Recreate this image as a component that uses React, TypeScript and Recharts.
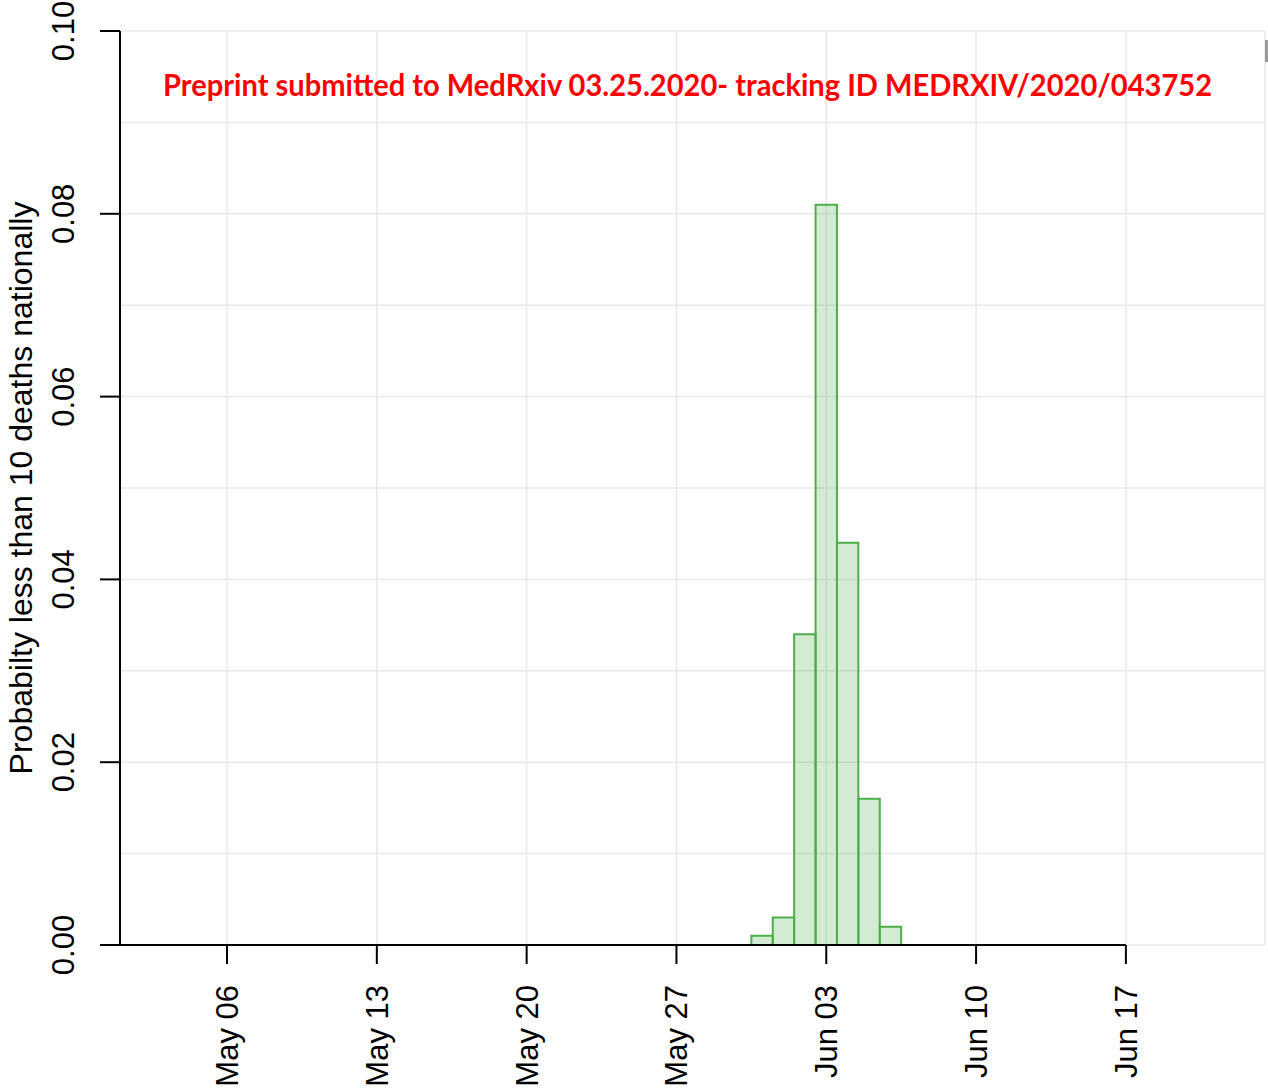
import React from "react";
import {
  ComposedChart,
  Bar,
  XAxis,
  YAxis,
  CartesianGrid,
  ReferenceLine,
  Customized,
} from "recharts";

// Days counted from May 01 (day 0)
const barDays = [30, 31, 32, 33, 34, 35, 36]; // May 31 .. Jun 06
const barValues = [0.001, 0.003, 0.034, 0.081, 0.044, 0.016, 0.002];

const xTickDays = [5, 12, 19, 26, 33, 40, 47];
const xTickLabels = ["May 06", "May 13", "May 20", "May 27", "Jun 03", "Jun 10", "Jun 17"];

const yTicks = [0, 0.01, 0.02, 0.03, 0.04, 0.05, 0.06, 0.07, 0.08, 0.09, 0.1];
const yLabeledTicks = [0, 0.02, 0.04, 0.06, 0.08, 0.1];
const yTickLabels = ["0.00", "0.02", "0.04", "0.06", "0.08", "0.10"];

const titleText = "Preprint submitted to MedRxiv 03.25.2020- tracking ID MEDRXIV/2020/043752";
const yLabelText = "Probabilty less than 10 deaths nationally";

const data = barDays.map((d, i) => ({ day: d, p: barValues[i] }));

const FONT = "'Liberation Sans', Arial, sans-serif";

const XTick = (props: any) => {
  const { x, y, payload } = props;
  const idx = xTickDays.indexOf(payload.value);
  const label = idx >= 0 ? xTickLabels[idx] : "";
  return (
    <g>
      <line x1={x} y1={y} x2={x} y2={y + 19} stroke="#000" strokeWidth={2} />
      <text
        transform={`translate(${x + 11}, ${y + 40}) rotate(-90)`}
        textAnchor="end"
        fontFamily={FONT}
        fontSize={31}
        fill="#000"
      >
        {label}
      </text>
    </g>
  );
};

const YTick = (props: any) => {
  const { y, payload } = props;
  const idx = yLabeledTicks.findIndex((v) => Math.abs(v - payload.value) < 1e-9);
  if (idx < 0) return <g />;
  return (
    <g>
      <line x1={100} y1={y} x2={120} y2={y} stroke="#000" strokeWidth={2} />
      <text
        transform={`translate(74, ${y}) rotate(-90)`}
        textAnchor="middle"
        fontFamily={FONT}
        fontSize={31}
        fill="#000"
      >
        {yTickLabels[idx]}
      </text>
    </g>
  );
};

const Decorations = () => (
  <g>
    <text
      x={163}
      y={96}
      fontFamily="Lato, 'Open Sans', sans-serif"
      fontWeight="bold"
      fontSize={30}
      fill="#ff0000"
      textLength={1049}
      lengthAdjust="spacingAndGlyphs"
    >
      {titleText}
    </text>
    <text
      transform="translate(32, 488) rotate(-90)"
      textAnchor="middle"
      fontFamily={FONT}
      fontSize={32}
      fill="#000"
    >
      {yLabelText}
    </text>
    <rect x={1265} y={40} width={3} height={22} fill="#9a9a9a" />
  </g>
);

export default function App() {
  return (
    <div style={{ position: "absolute", left: 0, top: 0, background: "#fff" }}>
      <ComposedChart
        width={1268}
        height={1089}
        data={data}
        margin={{ top: 31, right: 3, left: 0, bottom: 0 }}
        barCategoryGap={0}
        barGap={0}
      >
        <CartesianGrid stroke="#e9e9e9" strokeWidth={1.5} />
        <XAxis
          type="number"
          dataKey="day"
          domain={[0, 53.5]}
          ticks={xTickDays}
          interval={0}
          allowDataOverflow
          axisLine={false}
          tickLine={false}
          tickSize={0}
          tickMargin={0}
          height={144}
          tick={<XTick />}
        />
        <YAxis
          type="number"
          domain={[0, 0.1]}
          ticks={yTicks}
          interval={0}
          width={120}
          axisLine={{ stroke: "#000", strokeWidth: 2 }}
          tickLine={false}
          tick={<YTick />}
        />
        <Bar
          dataKey="p"
          barSize={21.4}
          fill="rgba(77,175,74,0.25)"
          stroke="#4daf4a"
          strokeWidth={2}
          isAnimationActive={false}
        />
        <ReferenceLine
          segment={[
            { x: 0, y: 0 },
            { x: 47, y: 0 },
          ]}
          stroke="#000"
          strokeWidth={2}
          ifOverflow="visible"
        />
        <Customized component={Decorations} />
      </ComposedChart>
    </div>
  );
}
